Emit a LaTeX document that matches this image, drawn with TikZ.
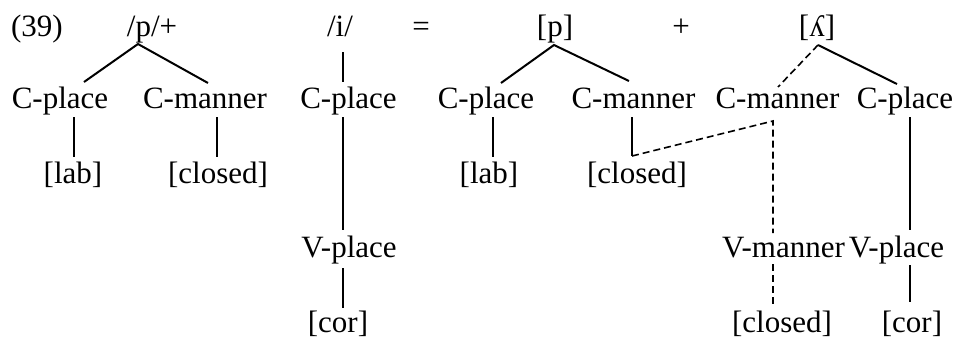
\documentclass[tikz,border=0pt]{standalone}
\usepackage{fontspec}
\setmainfont{Liberation Serif}
\begin{document}
\begin{tikzpicture}[x=1pt,y=-1pt,
  lbl/.style={inner sep=0pt,anchor=base,font=\fontsize{31}{36}\selectfont},
  br/.style={line width=2pt},
  dsh/.style={line width=1.6pt,dash pattern=on 7pt off 4pt}]
\useasboundingbox (0,0) rectangle (961,338);
% row 1
\node[lbl] (n39) at (37,36) {(39)};
\node[lbl] (pp) at (152,36) {/p/+};
\node[lbl] (ii) at (340,36) {/i/};
\node[lbl] (eq) at (421,36) {=};
\node[lbl] (pbr) at (555,36) {[p]};
\node[lbl] (plus) at (681,36) {+};
\node[lbl] (lam) at (817,36) {[ʎ]};
% row 2
\node[lbl] (cpl1) at (60,108) {C-place};
\node[lbl] (cma1) at (205,108) {C-manner};
\node[lbl] (cpl2) at (348.5,108) {C-place};
\node[lbl] (cpl3) at (486,108) {C-place};
\node[lbl] (cma2) at (633.5,108) {C-manner};
\node[lbl] (cma3) at (777.5,108) {C-manner};
\node[lbl] (cpl4) at (905,108) {C-place};
% row 3
\node[lbl] (lab1) at (73,183) {[lab]};
\node[lbl] (clo1) at (218,183) {[closed]};
\node[lbl] (lab2) at (489,183) {[lab]};
\node[lbl] (clo2) at (637,183) {[closed]};
% row 4
\node[lbl] (vpl1) at (349,257) {V-place};
\node[lbl] (vma) at (783.5,257) {V-manner};
\node[lbl] (vpl2) at (896.5,257) {V-place};
% row 5
\node[lbl] (cor1) at (338,332) {[cor]};
\node[lbl] (clo3) at (782,332) {[closed]};
\node[lbl] (cor2) at (912,332) {[cor]};
% connector ends
\coordinate (pA) at (138,44);
\coordinate (cpl1T) at (84,82);
\coordinate (cma1T) at (208,83);
\coordinate (iB) at (343,52);
\coordinate (cpl2T) at (343,82);
\coordinate (cpl1B) at (74,117);
\coordinate (lab1T) at (74,157);
\coordinate (cma1B) at (217,117);
\coordinate (clo1T) at (217,157);
\coordinate (cpl2B) at (343,117);
\coordinate (vpl1T) at (343,230);
\coordinate (vpl1B) at (343,268);
\coordinate (cor1T) at (343,308);
\coordinate (pbA) at (554,45);
\coordinate (cpl3T) at (501,83);
\coordinate (cma2T) at (629,81);
\coordinate (cpl3B) at (493,117);
\coordinate (lab2T) at (493,157);
\coordinate (cma2B) at (632,117);
\coordinate (clo2T) at (632,156);
\coordinate (cma3B) at (773,121);
\coordinate (vmaT) at (773,233);
\coordinate (vmaB) at (773,264);
\coordinate (clo3T) at (773,307);
\coordinate (lamA) at (818,45);
\coordinate (cma3T) at (778,87);
\coordinate (cpl4T) at (897,84);
\coordinate (cpl4B) at (910,117);
\coordinate (vpl2T) at (910,230);
\coordinate (vpl2B) at (910,265);
\coordinate (cor2T) at (910,302);
% connectors
\draw[br] (cpl1T) -- (pA) -- (cma1T);
\draw[br] (iB) -- (cpl2T);
\draw[br] (cpl1B) -- (lab1T);
\draw[br] (cma1B) -- (clo1T);
\draw[br] (cpl2B) -- (vpl1T);
\draw[br] (vpl1B) -- (cor1T);
\draw[br] (cpl3T) -- (pbA) -- (cma2T);
\draw[br] (cpl3B) -- (lab2T);
\draw[br] (cma2B) -- (clo2T);
\draw[dsh] (clo2T) -- (cma3B) -- (vmaT);
\draw[dsh] (vmaB) -- (clo3T);
\draw[dsh] (lamA) -- (cma3T);
\draw[br] (lamA) -- (cpl4T);
\draw[br] (cpl4B) -- (vpl2T);
\draw[br] (vpl2B) -- (cor2T);
\end{tikzpicture}
\end{document}
